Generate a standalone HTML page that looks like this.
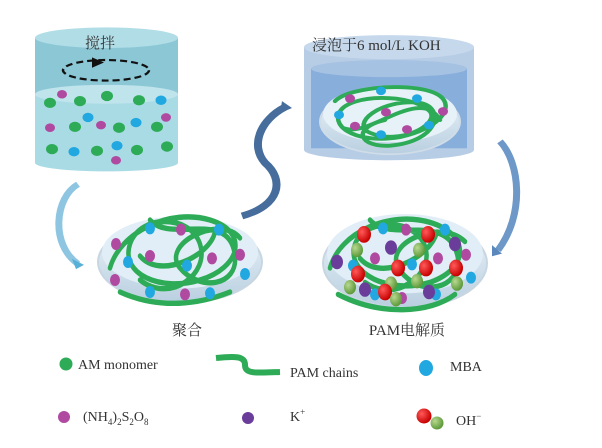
<!DOCTYPE html>
<html><head><meta charset="utf-8"><style>
html,body{margin:0;padding:0;background:#fff;width:602px;height:448px;overflow:hidden}
text{font-family:"Liberation Serif","Noto Serif CJK SC",serif;fill:#333}
</style></head><body>
<svg width="602" height="448" viewBox="0 0 602 448" xmlns="http://www.w3.org/2000/svg">
<defs>
<radialGradient id="rd" cx="35%" cy="35%" r="65%"><stop offset="0" stop-color="#ff5a5a"/><stop offset="1" stop-color="#c80000"/></radialGradient>
<radialGradient id="gn" cx="35%" cy="35%" r="65%"><stop offset="0" stop-color="#b8d890"/><stop offset="1" stop-color="#5e9a3a"/></radialGradient>
<linearGradient id="dish" x1="0" y1="0" x2="0" y2="1"><stop offset="0" stop-color="#eef6fb"/><stop offset="1" stop-color="#b9cfe0"/></linearGradient>
</defs>
<g transform="matrix(1,0,0,0.857,0,0)">
<rect x="35" y="44" width="143" height="146" fill="#a9dbe5"/>
<rect x="35" y="44" width="143" height="66" fill="#8cc7d6"/>
<ellipse cx="106.5" cy="190" rx="71.5" ry="10" fill="#a9dbe5"/>
<ellipse cx="106.5" cy="110" rx="71.5" ry="11" fill="#bfe4ec"/>
<ellipse cx="106.5" cy="44" rx="71.5" ry="12" fill="#b1dde7"/>
<ellipse cx="106" cy="82" rx="43" ry="12" fill="none" stroke="#111" stroke-width="2.5" stroke-dasharray="7,4"/>
<polygon points="92,67 104,73 92,79" fill="#111"/>
<g fill="#2eab57">
<circle cx="50" cy="120" r="6"/><circle cx="80" cy="118" r="6"/><circle cx="107" cy="112" r="6"/><circle cx="139" cy="117" r="6"/>
<circle cx="75" cy="148" r="6"/><circle cx="119" cy="149" r="6"/><circle cx="157" cy="148" r="6"/>
<circle cx="52" cy="174" r="6"/><circle cx="97" cy="176" r="6"/><circle cx="137" cy="175" r="6"/><circle cx="167" cy="171" r="6"/></g>
<g fill="#22a8e0"><circle cx="161" cy="117" r="5.5"/><circle cx="88" cy="137" r="5.5"/><circle cx="136" cy="143" r="5.5"/><circle cx="74" cy="177" r="5.5"/><circle cx="117" cy="170" r="5.5"/></g>
<g fill="#b04aa0"><circle cx="62" cy="110" r="5"/><circle cx="101" cy="146" r="5"/><circle cx="50" cy="149" r="5"/><circle cx="166" cy="137" r="5"/><circle cx="116" cy="187" r="5"/></g>
<rect x="304" y="55" width="170" height="120" fill="#b7cde6"/>
<ellipse cx="389" cy="175" rx="85" ry="12" fill="#b7cde6"/>
<rect x="311" y="80" width="156" height="93" fill="#88aedb"/>
<ellipse cx="389" cy="80" rx="78" ry="10" fill="#a6c2e3"/>
<ellipse cx="389" cy="55" rx="85" ry="14" fill="#c6d8ec"/>
<ellipse cx="390" cy="142" rx="70" ry="38" fill="url(#dish)" stroke="#d0dde8" stroke-width="2"/>
<ellipse cx="390" cy="133" rx="67" ry="33" fill="#e6f1f8"/>
<path d="M335,118 C350,100 420,95 440,112 C455,125 440,150 400,160 C360,168 330,150 340,130 C350,110 410,108 430,130 C440,145 400,170 370,155 C350,145 380,115 420,120 C445,125 440,165 390,170 C360,172 350,150 385,140 M345,150 C370,160 420,100 440,140" fill="none" stroke="#2eab57" stroke-width="4.5" stroke-linecap="round"/>
<g fill="#22a8e0"><circle cx="381" cy="106" r="5"/><circle cx="417" cy="115" r="5"/><circle cx="339" cy="134" r="5"/><circle cx="429" cy="146" r="5"/><circle cx="381" cy="157" r="5"/></g>
<g fill="#b04aa0"><circle cx="350" cy="115" r="5"/><circle cx="386" cy="131" r="5"/><circle cx="443" cy="130" r="5"/><circle cx="355" cy="147" r="5"/><circle cx="407" cy="151" r="5"/></g>
<path d="M78,215 C55,230 50,285 78,308" fill="none" stroke="#8ec6e2" stroke-width="7"/>
<polygon points="72,302 84,309 76,314" fill="#56b0d8"/>
<path d="M242,252 C280,240 285,210 265,190 C250,170 260,140 285,125" fill="none" stroke="#466d9c" stroke-width="8"/>
<polygon points="282,118 292,126 280,132" fill="#466d9c"/>
<path d="M500,165 C520,190 525,250 498,292" fill="none" stroke="#6d98c8" stroke-width="7"/>
<polygon points="492,286 502,296 492,299" fill="#5a88bc"/>
</g>
<g transform="matrix(1,0,0,1.2,0,-92)">
<ellipse cx="180" cy="295" rx="82" ry="34" fill="url(#dish)" stroke="#c8d6e2" stroke-width="2"/>
<ellipse cx="180" cy="287" rx="78" ry="30" fill="#e2eef7"/>
<path d="M110,300 C120,270 170,250 210,260 C250,270 240,300 200,310 C160,320 120,305 130,280 C140,255 190,255 200,280 C210,305 170,330 140,310 M150,260 C170,280 230,250 235,290 C238,315 200,320 180,300 C160,280 220,255 240,275 M120,320 C160,335 200,330 230,320 M140,290 C160,310 210,290 215,270" fill="none" stroke="#2eab57" stroke-width="4.5" stroke-linecap="round"/>
<g fill="#22a8e0"><circle cx="150" cy="267" r="5"/><circle cx="219" cy="268" r="5"/><circle cx="128" cy="295" r="5"/><circle cx="187" cy="298" r="5"/><circle cx="245" cy="305" r="5"/><circle cx="210" cy="321" r="5"/><circle cx="150" cy="320" r="5"/></g>
<g fill="#b04aa0"><circle cx="116" cy="280" r="5"/><circle cx="181" cy="268" r="5"/><circle cx="150" cy="290" r="5"/><circle cx="212" cy="292" r="5"/><circle cx="240" cy="289" r="5"/><circle cx="185" cy="322" r="5"/><circle cx="115" cy="310" r="5"/></g>
<ellipse cx="405" cy="296" rx="82" ry="37" fill="url(#dish)" stroke="#c8d6e2" stroke-width="2"/>
<ellipse cx="405" cy="288" rx="78" ry="33" fill="#e2eef7"/>
<path d="M330,300 C340,270 390,252 430,262 C470,272 470,300 430,312 C390,322 345,305 355,280 C365,258 415,258 425,282 C435,305 395,330 365,312 M370,260 C390,280 450,252 458,292 C460,318 420,325 400,302 C380,280 440,258 465,278 M338,322 C380,340 430,338 455,322 M360,292 C380,312 430,292 437,270" fill="none" stroke="#2eab57" stroke-width="4.5" stroke-linecap="round"/>
<g fill="#22a8e0"><circle cx="383" cy="267" r="5"/><circle cx="445" cy="268" r="5"/><circle cx="353" cy="298" r="5"/><circle cx="412" cy="297" r="5"/><circle cx="471" cy="308" r="5"/><circle cx="436" cy="322" r="5"/><circle cx="375" cy="322" r="5"/></g>
<g fill="#b04aa0"><circle cx="406" cy="268" r="5"/><circle cx="375" cy="292" r="5"/><circle cx="438" cy="292" r="5"/><circle cx="466" cy="289" r="5"/><circle cx="402" cy="325" r="5"/></g>
<g fill="#6a3d9a"><circle cx="337" cy="295" r="6"/><circle cx="391" cy="283" r="6"/><circle cx="455" cy="280" r="6"/><circle cx="365" cy="318" r="6"/><circle cx="429" cy="320" r="6"/></g>
<g><circle cx="364" cy="272" r="7" fill="url(#rd)"/><circle cx="357" cy="285" r="6" fill="url(#gn)"/>
<circle cx="428" cy="272" r="7" fill="url(#rd)"/><circle cx="419" cy="285" r="6" fill="url(#gn)"/>
<circle cx="398" cy="300" r="7" fill="url(#rd)"/><circle cx="391" cy="313" r="6" fill="url(#gn)"/>
<circle cx="426" cy="300" r="7" fill="url(#rd)"/><circle cx="417" cy="311" r="6" fill="url(#gn)"/>
<circle cx="456" cy="300" r="7" fill="url(#rd)"/><circle cx="457" cy="313" r="6" fill="url(#gn)"/>
<circle cx="358" cy="305" r="7" fill="url(#rd)"/><circle cx="350" cy="316" r="6" fill="url(#gn)"/>
<circle cx="385" cy="320" r="7" fill="url(#rd)"/><circle cx="396" cy="326" r="6" fill="url(#gn)"/></g>
</g>
<text x="100" y="48" font-size="15" text-anchor="middle">搅拌</text>
<text x="312" y="50" font-size="15">浸泡于6 mol/L KOH</text>
<text x="187" y="335" font-size="15" text-anchor="middle">聚合</text>
<text x="407" y="335" font-size="15" text-anchor="middle">PAM电解质</text>
<circle cx="66" cy="364" r="6.5" fill="#2eab57"/>
<text x="78" y="369" font-size="14">AM  monomer</text>
<path d="M216,358 C235,356 245,356 245,365 C245,374 255,373 280,372" fill="none" stroke="#2eab57" stroke-width="6"/>
<text x="290" y="377" font-size="14">PAM chains</text>
<ellipse cx="426" cy="368" rx="7" ry="8" fill="#22a8e0"/>
<text x="450" y="371" font-size="14">MBA</text>
<circle cx="64" cy="417" r="6" fill="#b04aa0"/>
<text x="83" y="421" font-size="14">(NH<tspan font-size="9" dy="4">4</tspan><tspan dy="-4">)</tspan><tspan font-size="9" dy="4">2</tspan><tspan dy="-4">S</tspan><tspan font-size="9" dy="4">2</tspan><tspan dy="-4">O</tspan><tspan font-size="9" dy="4">8</tspan></text>
<circle cx="248" cy="418" r="6" fill="#6a3d9a"/>
<text x="290" y="421" font-size="14">K<tspan font-size="9" dy="-6">+</tspan></text>
<circle cx="424" cy="416" r="7.5" fill="url(#rd)"/><circle cx="437" cy="423" r="6.5" fill="url(#gn)"/>
<text x="456" y="425" font-size="14">OH<tspan font-size="9" dy="-6">−</tspan></text>
</svg>
</body></html>
